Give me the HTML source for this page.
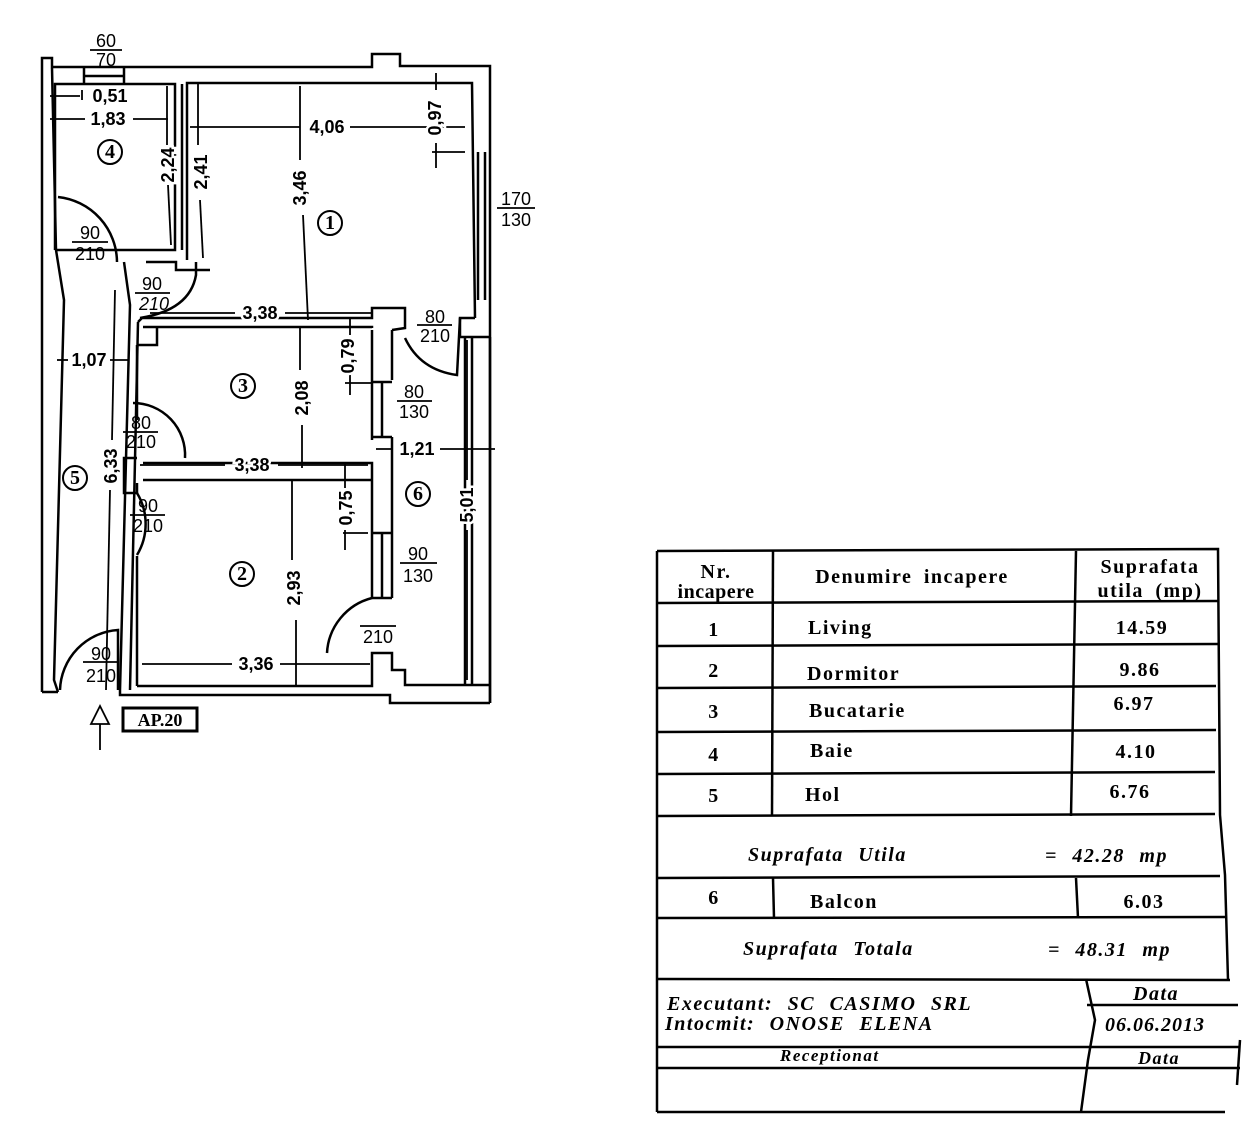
<!DOCTYPE html>
<html><head><meta charset="utf-8"><style>
html,body{margin:0;padding:0;background:#fff}
svg{display:block}
text{font-family:"Liberation Sans",sans-serif;fill:#000}
.d text{font-size:18px;font-weight:bold;paint-order:stroke;stroke:#fff;stroke-width:5px}
.s text{font-size:18px}
.t text,text.t{font-family:"Liberation Serif",serif;font-size:20px;font-weight:bold;word-spacing:5px;letter-spacing:1.5px}
.i text{font-family:"Liberation Serif",serif;font-size:20px;font-weight:bold;font-style:italic;word-spacing:8px;letter-spacing:1.5px}
.c text{font-family:"Liberation Serif",serif;font-size:20px;font-weight:bold}
</style></head><body>
<svg width="1255" height="1132" viewBox="0 0 1255 1132" xmlns="http://www.w3.org/2000/svg">
<g fill="none" stroke="#000" stroke-width="2.5">
<polyline points="42,692 42,58 52,58 52,67 372,67 372,54 400,54 400,66 490,66 490,703"/>
<line x1="84" y1="67" x2="84" y2="84"/><line x1="124" y1="67" x2="124" y2="84"/><line x1="84" y1="76" x2="124" y2="76"/>
<polyline points="55,250 55,84 175,84 175,250 55,250"/>
<line x1="182" y1="84" x2="182" y2="250"/>
<polyline points="187,260 187,83 472,83 475,318"/>
<polyline points="146,262 176,262 176,270 210,270"/>
<line x1="478" y1="152" x2="478" y2="300"/><line x1="485" y1="152" x2="485" y2="300"/>
<polyline points="475,318 460,318 460,337 490,337"/>
<polyline points="52,68 56,250 64,300 54,680 58,692"/>
<polyline points="42,692 58,692"/>
<polyline points="124,262 130,305 120,690"/>
<polyline points="138,322 130,690"/>
<polyline points="138,322 142,318 372,318 372,308 405,308 405,328 392,330"/>
<polyline points="143,327 372,327 372,328"/>
<polyline points="137,345 157,345 157,327"/>
<line x1="137" y1="345" x2="137" y2="420"/>
<line x1="372" y1="330" x2="372" y2="440"/>
<line x1="392" y1="330" x2="392" y2="380"/>
<line x1="382" y1="382" x2="382" y2="437"/><line x1="372" y1="382" x2="392" y2="382"/><line x1="372" y1="437" x2="392" y2="437"/>
<line x1="392" y1="437" x2="392" y2="598"/>
<line x1="372" y1="472" x2="372" y2="598"/>
<line x1="382" y1="533" x2="382" y2="598"/><line x1="372" y1="533" x2="392" y2="533"/><line x1="372" y1="598" x2="392" y2="598"/>
<polyline points="137,458 124,458 124,493 137,493"/>
<polyline points="143,463 372,463 372,472"/>
<polyline points="143,480 372,480"/>
<line x1="137" y1="493" x2="137" y2="483"/>
<line x1="137" y1="556" x2="137" y2="686"/>
<polyline points="137,686 372,686 372,653 392,653 392,670 405,670 405,685 490,685"/>
<polyline points="120,690 120,695 390,695 390,703 490,703"/>
<line x1="465" y1="337" x2="465" y2="685"/>
<line x1="472" y1="337" x2="472" y2="685"/>
<line x1="490" y1="337" x2="490" y2="703"/>
<path d="M58,197 A66,66 0 0 1 117,262"/>
<path d="M140,318 Q190,310 196,275 L196,262"/>
<path d="M405,338 Q420,370 457,375 L460,318"/>
<path d="M133,403 A52,52 0 0 1 185,458"/>
<path d="M137,493 A60,60 0 0 1 137,555"/>
<path d="M327,653 A60,60 0 0 1 372,598"/>
<path d="M60,690 A62,62 0 0 1 118,630 L118,690"/>
</g>
<g stroke="#000" stroke-width="1.8" fill="none">
<line x1="50" y1="96" x2="80" y2="96"/><line x1="82" y1="90" x2="82" y2="100"/>
<line x1="50" y1="119" x2="85" y2="119"/><line x1="133" y1="119" x2="168" y2="119"/>
<line x1="167" y1="86" x2="167" y2="145"/><line x1="168" y1="185" x2="171" y2="245"/>
<line x1="198" y1="84" x2="198" y2="145"/><line x1="200" y1="200" x2="203" y2="258"/>
<line x1="190" y1="127" x2="300" y2="127"/><line x1="350" y1="127" x2="465" y2="127"/>
<line x1="300" y1="86" x2="300" y2="160"/><line x1="303" y1="215" x2="308" y2="320"/>
<line x1="436" y1="73" x2="436" y2="90"/><line x1="436" y1="143" x2="436" y2="168"/><line x1="432" y1="152" x2="465" y2="152"/>
<line x1="150" y1="313" x2="235" y2="313"/><line x1="285" y1="313" x2="372" y2="313"/>
<line x1="350" y1="318" x2="350" y2="335"/><line x1="345" y1="383" x2="372" y2="383"/><line x1="350" y1="375" x2="350" y2="395"/>
<line x1="300" y1="327" x2="300" y2="370"/><line x1="302" y1="425" x2="302" y2="468"/>
<line x1="57" y1="360" x2="68" y2="360"/><line x1="110" y1="360" x2="128" y2="360"/>
<line x1="115" y1="290" x2="112" y2="440"/><line x1="110" y1="490" x2="106" y2="690"/>
<line x1="140" y1="465" x2="225" y2="465"/><line x1="278" y1="465" x2="368" y2="465"/>
<line x1="345" y1="463" x2="345" y2="488"/><line x1="343" y1="533" x2="368" y2="533"/><line x1="345" y1="530" x2="345" y2="550"/>
<line x1="376" y1="449" x2="393" y2="449"/><line x1="440" y1="449" x2="495" y2="449"/>
<line x1="467" y1="340" x2="467" y2="480"/><line x1="467" y1="530" x2="467" y2="680"/>
<line x1="292" y1="480" x2="292" y2="560"/><line x1="296" y1="620" x2="296" y2="686"/>
<line x1="142" y1="664" x2="232" y2="664"/><line x1="280" y1="664" x2="370" y2="664"/>
<line x1="90" y1="50" x2="122" y2="50"/><line x1="497" y1="208" x2="535" y2="208"/>
<line x1="72" y1="242" x2="108" y2="242"/><line x1="135" y1="293" x2="170" y2="293"/>
<line x1="417" y1="325" x2="452" y2="325"/><line x1="397" y1="401" x2="432" y2="401"/>
<line x1="123" y1="432" x2="158" y2="432"/><line x1="130" y1="515" x2="165" y2="515"/>
<line x1="400" y1="563" x2="437" y2="563"/><line x1="360" y1="626" x2="396" y2="626"/>
<line x1="83" y1="662" x2="118" y2="662"/>
<polygon points="100,706 91,724 109,724"/><line x1="100" y1="724" x2="100" y2="750"/>
</g>
<rect x="123" y="708" width="74" height="23" fill="none" stroke="#000" stroke-width="3"/>
<text x="160" y="726" text-anchor="middle" style="font-family:'Liberation Serif',serif;font-weight:bold;font-size:18px">AP.20</text>
<g fill="none" stroke="#000" stroke-width="2"><circle cx="110" cy="152" r="12"/><circle cx="330" cy="223" r="12"/><circle cx="243" cy="386" r="12"/><circle cx="242" cy="574" r="12"/><circle cx="418" cy="494" r="12"/><circle cx="75" cy="478" r="12"/></g>
<g class="c" text-anchor="middle">
<text x="110" y="158">4</text><text x="330" y="229">1</text><text x="243" y="392">3</text><text x="242" y="580">2</text><text x="418" y="500">6</text><text x="75" y="484">5</text></g>
<g class="s" text-anchor="middle">
<text x="106" y="47">60</text><text x="106" y="66">70</text>
<text x="516" y="205">170</text><text x="516" y="226">130</text>
<text x="90" y="239">90</text><text x="90" y="260">210</text>
<text x="152" y="290">90</text><text x="154" y="310" font-style="italic">210</text>
<text x="435" y="323">80</text><text x="435" y="342">210</text>
<text x="414" y="398">80</text><text x="414" y="418">130</text>
<text x="141" y="429">80</text><text x="141" y="448">210</text>
<text x="148" y="512">90</text><text x="148" y="532">210</text>
<text x="418" y="560">90</text><text x="418" y="582">130</text>
<text x="378" y="643">210</text>
<text x="101" y="660">90</text><text x="101" y="682">210</text>
</g>
<g class="d" text-anchor="middle">
<text x="110" y="102">0,51</text><text x="108" y="125">1,83</text>
<text x="327" y="133">4,06</text>
<text x="260" y="319">3,38</text><text x="252" y="471">3,38</text><text x="256" y="670">3,36</text>
<text x="89" y="366">1,07</text><text x="417" y="455">1,21</text>
<text transform="translate(174,165) rotate(-90)">2,24</text>
<text transform="translate(207,172) rotate(-90)">2,41</text>
<text transform="translate(306,188) rotate(-90)">3,46</text>
<text transform="translate(441,118) rotate(-90)">0,97</text>
<text transform="translate(354,356) rotate(-90)">0,79</text>
<text transform="translate(308,398) rotate(-90)">2,08</text>
<text transform="translate(117,466) rotate(-90)">6,33</text>
<text transform="translate(352,508) rotate(-90)">0,75</text>
<text transform="translate(473,505) rotate(-90)">5,01</text>
<text transform="translate(300,588) rotate(-90)">2,93</text>
</g>
<g fill="none" stroke="#000" stroke-width="2.5">
<polyline points="657,551 1218,549 1220,815 1225,875 1228,980"/>
<line x1="657" y1="551" x2="657" y2="1112"/>
<line x1="657" y1="1112" x2="1225" y2="1112"/>
<line x1="657" y1="603" x2="1218" y2="601"/>
<line x1="657" y1="646" x2="1218" y2="644"/>
<line x1="657" y1="688" x2="1216" y2="686"/>
<line x1="657" y1="732" x2="1216" y2="730"/>
<line x1="657" y1="774" x2="1215" y2="772"/>
<line x1="657" y1="816" x2="1215" y2="814"/>
<line x1="657" y1="878" x2="1220" y2="876"/>
<line x1="657" y1="918" x2="1225" y2="917"/>
<line x1="657" y1="979" x2="1230" y2="980"/>
<line x1="1087" y1="1005" x2="1238" y2="1005"/>
<line x1="657" y1="1047" x2="1240" y2="1047"/>
<line x1="657" y1="1068" x2="1240" y2="1068"/>
<line x1="1240" y1="1040" x2="1237" y2="1085"/>
<line x1="773" y1="551" x2="772" y2="816"/>
<line x1="1076" y1="551" x2="1071" y2="816"/>
<line x1="773" y1="878" x2="774" y2="918"/>
<line x1="1076" y1="878" x2="1078" y2="918"/>
<polyline points="1086,979 1095,1020 1088,1060 1081,1112"/>
</g>
<g class="t" text-anchor="middle">
<text x="716" y="578">Nr.</text><text x="716" y="598" style="letter-spacing:0.5px">incapere</text>
<text x="912" y="583">Denumire  incapere</text>
<text x="1150" y="573">Suprafata</text><text x="1150" y="597">utila  (mp)</text>
<text x="714" y="636">1</text><text x="714" y="677">2</text><text x="714" y="718">3</text><text x="714" y="761">4</text><text x="714" y="802">5</text><text x="714" y="904">6</text>
<text x="1142" y="634">14.59</text><text x="1140" y="676">9.86</text><text x="1134" y="710">6.97</text><text x="1136" y="758">4.10</text><text x="1130" y="798">6.76</text><text x="1144" y="908">6.03</text>
</g>
<g class="t">
<text x="808" y="634">Living</text><text x="807" y="680">Dormitor</text><text x="809" y="717">Bucatarie</text><text x="810" y="757">Baie</text><text x="805" y="801">Hol</text><text x="810" y="908">Balcon</text>
</g>
<g class="i">
<text x="748" y="861">Suprafata  Utila</text><text x="1045" y="862">=  42.28  mp</text>
<text x="743" y="955">Suprafata  Totala</text><text x="1048" y="956">=  48.31  mp</text>
<text x="667" y="1010">Executant:  SC  CASIMO  SRL</text>
<text x="665" y="1030">Intocmit:   ONOSE  ELENA</text>
<text x="780" y="1061" style="font-size:17px">Receptionat</text>
<text x="1133" y="1000">Data</text>
<text x="1105" y="1031" style="letter-spacing:1px">06.06.2013</text>
<text x="1138" y="1064" style="font-size:18px">Data</text>
</g>
</svg>
</body></html>
